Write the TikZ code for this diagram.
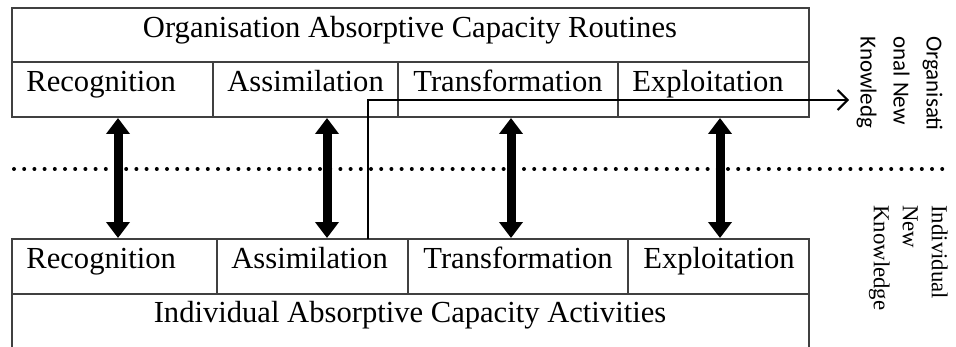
\documentclass[tikz,border=0pt]{standalone}
\usepackage{fontspec}
\setmainfont{Liberation Serif}
\newfontfamily\sidefont{Carlito}
\usetikzlibrary{arrows.meta}

\begin{document}
\begin{tikzpicture}[x=0.5pt,y=-0.5pt,
  box/.style={draw=black!75,line width=0.7pt},
  lbl/.style={anchor=base west,inner sep=0pt,font=\fontsize{15.3}{18}\selectfont},
  heading/.style={anchor=base,inner sep=0pt,font=\fontsize{15.3}{18}\selectfont},
  link/.style={line width=4.5pt,{Triangle[width=11.5pt,length=8pt]}-{Triangle[width=11.5pt,length=8pt]}},
  flow/.style={line width=1pt,-{Straight Barb[length=5pt,width=10pt]}},
  side/.style={rotate=-90,anchor=north west,align=left,inner sep=0pt}]
  \useasboundingbox (0,0) rectangle (956,347);

  % organisation routines box
  \draw[box] (12,8) rectangle (809,117);
  \draw[box] (12,62) -- (809,62);
  \draw[box] (213,62) -- (213,117);
  \draw[box] (398,62) -- (398,117);
  \draw[box] (618,62) -- (618,117);

  % individual activities box
  \draw[box] (12,347) -- (12,239) -- (809,239) -- (809,347);
  \draw[box] (12,294) -- (809,294);
  \draw[box] (217,239) -- (217,294);
  \draw[box] (408,239) -- (408,294);
  \draw[box] (628,239) -- (628,294);

  % labels
  \node[heading] (otitle) at (410,38) {Organisation Absorptive Capacity Routines};
  \node[lbl] (orec) at (26,92) {Recognition};
  \node[lbl] (oass) at (227,92) {Assimilation};
  \node[lbl] (otra) at (413,92) {Transformation};
  \node[lbl] (oexp) at (632,92) {Exploitation};

  \node[lbl] (irec) at (26,268) {Recognition};
  \node[lbl] (iass) at (231,268) {Assimilation};
  \node[lbl] (itra) at (423,268) {Transformation};
  \node[lbl] (iexp) at (643,268) {Exploitation};
  \node[heading] (ititle) at (410,322) {Individual Absorptive Capacity Activities};

  % side notes
  \node[side,font=\sidefont\fontsize{11.5}{16.5}\selectfont] (orgnew) at (943,36)
    {Organisati\\onal New\\Knowledg};
  \node[side,font=\fontsize{11.4}{14.5}\selectfont] (indnew) at (948,205)
    {Individual\\New\\Knowledge};

  % dotted divide
  \coordinate (dl) at (14,169);
  \coordinate (dr) at (950,169);
  \draw[line width=2pt,line cap=round,dash pattern=on 0pt off 5.1pt] (dl) -- (dr);

  % links between levels
  \coordinate (a1) at (118,118);  \coordinate (b1) at (118,238);
  \coordinate (a2) at (327,118);  \coordinate (b2) at (327,238);
  \coordinate (a3) at (511,118);  \coordinate (b3) at (511,238);
  \coordinate (a4) at (720,118);  \coordinate (b4) at (720,238);
  \draw[link] (a1) -- (b1);
  \draw[link] (a2) -- (b2);
  \draw[link] (a3) -- (b3);
  \draw[link] (a4) -- (b4);

  % knowledge flow
  \coordinate (src) at (368,239);
  \coordinate (dst) at (849,100);
  \draw[flow] (src) |- (dst);
\end{tikzpicture}
\end{document}
